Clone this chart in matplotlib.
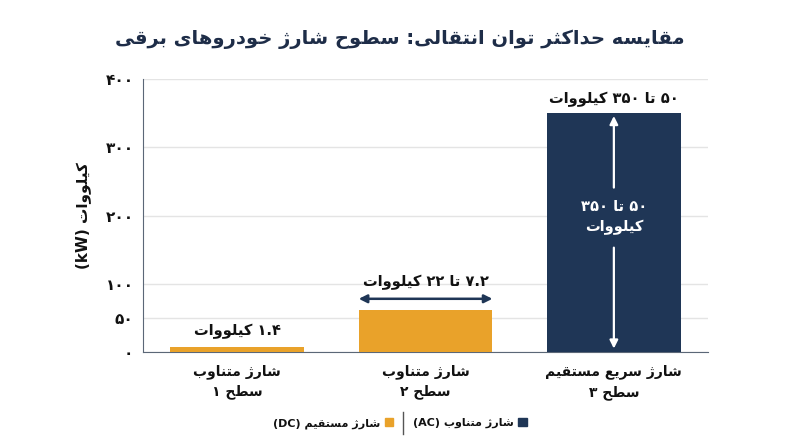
import matplotlib
matplotlib.use("Agg")
import matplotlib.pyplot as plt
from matplotlib.patches import Patch

# --- minimal Persian shaping + visual reordering (matplotlib has no RTL layout) ---
FORMS = {
    'ا': ('\uFE8D', '\uFE8E', None, None),
    'ب': ('\uFE8F', '\uFE90', '\uFE91', '\uFE92'),
    'ت': ('\uFE95', '\uFE96', '\uFE97', '\uFE98'),
    'ث': ('\uFE99', '\uFE9A', '\uFE9B', '\uFE9C'),
    'ح': ('\uFEA1', '\uFEA2', '\uFEA3', '\uFEA4'),
    'خ': ('\uFEA5', '\uFEA6', '\uFEA7', '\uFEA8'),
    'د': ('\uFEA9', '\uFEAA', None, None),
    'ر': ('\uFEAD', '\uFEAE', None, None),
    'ژ': ('\uFB8A', '\uFB8B', None, None),
    'س': ('\uFEB1', '\uFEB2', '\uFEB3', '\uFEB4'),
    'ش': ('\uFEB5', '\uFEB6', '\uFEB7', '\uFEB8'),
    'ط': ('\uFEC1', '\uFEC2', '\uFEC3', '\uFEC4'),
    'ع': ('\uFEC9', '\uFECA', '\uFECB', '\uFECC'),
    'ق': ('\uFED5', '\uFED6', '\uFED7', '\uFED8'),
    'ک': ('\uFB8E', '\uFB8F', '\uFB90', '\uFB91'),
    'ل': ('\uFEDD', '\uFEDE', '\uFEDF', '\uFEE0'),
    'م': ('\uFEE1', '\uFEE2', '\uFEE3', '\uFEE4'),
    'ن': ('\uFEE5', '\uFEE6', '\uFEE7', '\uFEE8'),
    'ه': ('\uFEE9', '\uFEEA', '\uFEEB', '\uFEEC'),
    'و': ('\uFEED', '\uFEEE', None, None),
    'ی': ('\uFBFC', '\uFBFD', '\uFBFE', '\uFBFF'),
}
FA_DIGITS = '۰۱۲۳۴۵۶۷۸۹'
MIRROR = {'(': ')', ')': '('}


def shape(word):
    out = []
    for i, c in enumerate(word):
        if c not in FORMS:
            out.append(c)
            continue
        prev = word[i - 1] if i > 0 else ''
        nxt = word[i + 1] if i + 1 < len(word) else ''
        jp = prev in FORMS and FORMS[prev][2] is not None
        jn = FORMS[c][2] is not None and nxt in FORMS
        iso, fin, ini, med = FORMS[c]
        if jp and jn:
            out.append(med)
        elif jp:
            out.append(fin)
        elif jn:
            out.append(ini)
        else:
            out.append(iso)
    return ''.join(out)


def kind(c):
    if c in FORMS or '\u0600' <= c <= '\u06ff' and c not in FA_DIGITS:
        return 'R'
    if c.isdigit() or c in FA_DIGITS:
        return 'N'
    if c.isascii() and c.isalpha():
        return 'L'
    return 'W'


def line_visual(s):
    kinds = [kind(c) for c in s]
    # a dot between digits stays with the number
    for i in range(1, len(s) - 1):
        if kinds[i] == 'W' and s[i] == '.' and kinds[i - 1] == 'N' and kinds[i + 1] == 'N':
            kinds[i] = 'N'
    runs = []
    for c, k in zip(s, kinds):
        if runs and runs[-1][0] == k:
            runs[-1][1] += c
        else:
            runs.append([k, c])
    parts = []
    for k, t in reversed(runs):
        if k == 'R':
            parts.append(shape(t)[::-1])
        elif k == 'W':
            parts.append(''.join(MIRROR.get(c, c) for c in t[::-1]))
        else:
            parts.append(t)
    return ''.join(parts)


def fa(s):
    return '\n'.join(line_visual(l) for l in s.split('\n'))


# --- data ---
title = 'مقایسه حداکثر توان انتقالی: سطوح شارژ خودروهای برقی'
ylabel = 'کیلووات (kW)'
categories = ['شارژ متناوب\nسطح ۱', 'شارژ متناوب\nسطح ۲', 'شارژ سریع مستقیم\nسطح ۳']
bar_heights = [8, 62, 350]
bar_kind = ['AC', 'AC', 'DC']
bar_labels = ['۱.۴ کیلووات', '۷.۲ تا ۲۲ کیلووات', '۵۰ تا ۳۵۰ کیلووات']
label_y = [30, 102, 370]
inner_label = '۵۰ تا ۳۵۰\nکیلووات'
yticks = [0, 50, 100, 200, 300, 400]
ytick_labels = ['۰', '۵۰', '۱۰۰', '۲۰۰', '۳۰۰', '۴۰۰']
legend_labels = {'AC': 'شارژ متناوب (AC)', 'DC': 'شارژ مستقیم (DC)'}

NAVY = '#1f3656'
ORANGE = '#e9a22a'
bar_colors = {'AC': ORANGE, 'DC': NAVY}

plt.rcParams['font.family'] = ['DejaVu Sans']
plt.rcParams['font.weight'] = 'bold'

fig = plt.figure(figsize=(8, 4.47), dpi=100)
ax = fig.add_axes([0.179, 0.2125, 0.706, 0.6105])

x = list(range(len(categories)))
ax.bar(x, bar_heights, width=0.71, color=[bar_colors[k] for k in bar_kind], zorder=3)
ax.set_xlim(-0.5, 2.5)
ax.set_ylim(0, 400)
ax.set_yticks(yticks, ytick_labels, fontsize=11, fontweight='bold', color='#111111')
ax.set_xticks(x, [fa(c) for c in categories], fontsize=10, fontweight='bold',
              color='#111111', linespacing=1.5)
ax.tick_params(axis='y', length=0, pad=7)
ax.tick_params(axis='x', length=0, pad=9)
ax.grid(axis='y', color='#e4e4e4', lw=1, zorder=0)
for s in ['top', 'right']:
    ax.spines[s].set_visible(False)
ax.spines['left'].set_color('#5b6777')
ax.spines['bottom'].set_color('#5b6777')
ax.set_ylabel(fa(ylabel), fontsize=11, fontweight='bold', color='#111111', labelpad=10)

for xi, lab, ly in zip(x, bar_labels, label_y):
    ax.text(xi, ly, fa(lab), ha='center', va='center', fontsize=10.5,
            fontweight='bold', color='#111111', zorder=5)

# level 2 range arrow across the bar width
ax.annotate('', xy=(1 - 0.355, 78), xytext=(1 + 0.355, 78),
            arrowprops=dict(arrowstyle='<|-|>', color=NAVY, lw=1.8,
                            mutation_scale=12, shrinkA=0, shrinkB=0), zorder=5)

# level 3 vertical arrow split by its label
ax.annotate('', xy=(2, 346), xytext=(2, 241),
            arrowprops=dict(arrowstyle='-|>', color='white', lw=1.6,
                            mutation_scale=12, shrinkA=0, shrinkB=0), zorder=5)
ax.annotate('', xy=(2, 5), xytext=(2, 153),
            arrowprops=dict(arrowstyle='-|>', color='white', lw=1.6,
                            mutation_scale=12, shrinkA=0, shrinkB=0), zorder=5)
ax.text(2, 198, fa(inner_label), ha='center', va='center', fontsize=10.5,
        fontweight='bold', color='white', linespacing=1.5, zorder=5)

fig.text(0.5, 0.912, fa(title), ha='center', va='center', fontsize=14,
         fontweight='bold', color='#1e2d48')

handles = [Patch(color=bar_colors['DC'], label=fa(legend_labels['AC'])),
           Patch(color=bar_colors['AC'], label=fa(legend_labels['DC']))]
handles = handles[::-1]
leg = fig.legend(handles=handles, loc='center', bbox_to_anchor=(0.5, 0.053), ncol=2,
                 frameon=False, markerfirst=False, handlelength=0.75, handleheight=0.75,
                 handletextpad=0.4, columnspacing=1.8, prop={'size': 8, 'weight': 'bold'})
for t in leg.get_texts():
    t.set_color('#111111')

fig.canvas.draw()
texts = leg.get_texts()
bb_left = leg.legend_handles[0].get_window_extent()
bb_right = texts[1].get_window_extent()
sep_x = (bb_left.x1 + bb_right.x0) / 2 / fig.bbox.width
fig.add_artist(plt.Line2D([sep_x, sep_x], [0.028, 0.078], color='#555555', lw=1,
                          transform=fig.transFigure))

fig.savefig('out.png', dpi=100)
